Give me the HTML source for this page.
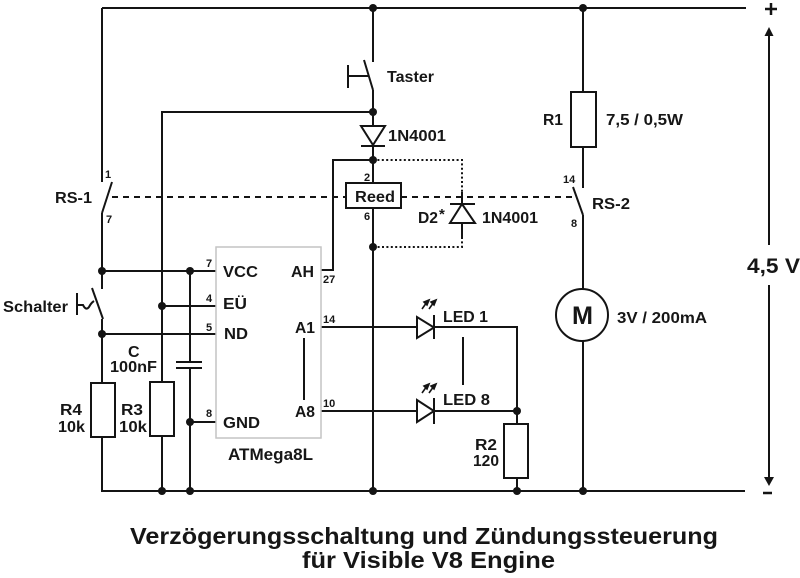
<!DOCTYPE html>
<html><head><meta charset="utf-8"><style>
html,body{margin:0;padding:0;background:#fff;}
svg{display:block;}
text{font-family:"Liberation Sans",Arial,sans-serif;font-weight:bold;fill:#161616;}
</style></head><body>
<svg width="800" height="578" viewBox="0 0 800 578" xmlns="http://www.w3.org/2000/svg">
<rect width="800" height="578" fill="#fff"/>
<g stroke="#141414" stroke-width="2" fill="none" stroke-linecap="butt">
  <!-- top rail -->
  <path d="M102,8 H746"/>
  <!-- left vertical with RS-1 -->
  <path d="M102,8 V182"/>
  <path d="M102,213 L112,182"/>
  <path d="M102,213 V289"/>
  <!-- Schalter -->
  <path d="M92,288 L103,319"/>
  <path d="M102,319 V383"/>
  <path d="M77,293 V315"/>
  <path d="M77,305 H83 Q86,311 89,307 Q91,303 94,301"/>
  <rect x="91" y="383" width="24" height="54"/>
  <path d="M102,437 V491 H745"/>
  <!-- x=162 -->
  <path d="M373,112 H162 V382"/>
  <rect x="150" y="382" width="24" height="54"/>
  <path d="M162,436 V491"/>
  <!-- capacitor -->
  <path d="M190,271 V362"/>
  <path d="M176,362 H202 M176,368 H202"/>
  <path d="M190,368 V491"/>
  <!-- IC wires -->
  <path d="M102,271 H216"/>
  <path d="M162,306 H216"/>
  <path d="M102,334 H216"/>
  <path d="M190,422 H216"/>
  <path d="M304,338 V400"/>
  <path d="M321,270 H333 V160 H373"/>
  <!-- Taster / diode column -->
  <path d="M373,8 V62"/>
  <path d="M364,60 L373,90"/>
  <path d="M348,76 H368 M348,65 V88"/>
  <path d="M373,90 V126"/>
  <path d="M373,145 V183"/>
  <path d="M361,146 H385"/>
  <rect x="346" y="183" width="55" height="25"/>
  <path d="M373,208 V491"/>
  <!-- D2 -->
  <path d="M462,192 V204 M462,223 V237"/>
  <path d="M450,204 H475"/>
  <path d="M450,223 H475 L462,204 Z"/>
  <!-- LEDs -->
  <path d="M321,327 H417 M434,327 H517 V424"/>
  <path d="M321,411 H417 M434,411 H517"/>
  <path d="M417,317 V338 L434,327.5 Z"/>
  <path d="M434,315 V339"/>
  <path d="M417,400 V422 L434,411 Z"/>
  <path d="M434,398 V424"/>
  <path d="M463,337 V385"/>
  <rect x="504" y="424" width="24" height="54"/>
  <path d="M517,478 V491"/>
  <!-- right branch -->
  <path d="M583,8 V92"/>
  <rect x="571" y="92" width="25" height="55"/>
  <path d="M583,147 V188"/>
  <path d="M573,187 L583,215"/>
  <path d="M583,215 V289"/>
  <circle cx="582" cy="315" r="26"/>
  <path d="M583,341 V491"/>
  <!-- voltage arrow -->
  <path d="M769,35 V245 M769,285 V478"/>
  <path d="M765,9 H777 M771,3 V15" stroke-width="2.5"/>
  <path d="M763,493 H772" stroke-width="2.5"/>
</g>
<!-- LED arrows -->
<g stroke="#141414" stroke-width="1.6" fill="#141414">
  <path d="M422,309 L427,302"/><path d="M429,300 L424,302 L427,305 Z"/>
  <path d="M429,309 L434,302"/><path d="M436,300 L431,302 L434,305 Z"/>
  <path d="M422,393 L427,386"/><path d="M429,384 L424,386 L427,389 Z"/>
  <path d="M429,393 L434,386"/><path d="M436,384 L431,386 L434,389 Z"/>
</g>
<!-- diode 1N4001 -->
<path d="M361,126 H385 L373,145 Z" fill="#fff" stroke="#141414" stroke-width="2"/>
<!-- arrowheads -->
<path d="M769,27 L764.5,36 L773.5,36 Z" fill="#141414"/>
<path d="M769,486 L764,477 L774,477 Z" fill="#141414"/>
<!-- IC box -->
<rect x="216" y="247" width="105" height="191" fill="none" stroke="#c4c4c4" stroke-width="1.5"/>
<!-- dashed mechanical link -->
<path d="M112,197 H346 M401,197 H575" stroke="#141414" stroke-width="2" stroke-dasharray="6 5" fill="none"/>
<!-- dotted D2 connection -->
<path d="M373,160 H462 V192 M462,237 V247 H373" stroke="#141414" stroke-width="2" stroke-dasharray="2 2.4" fill="none"/>
<!-- junctions -->
<g fill="#141414">
  <circle cx="373" cy="8" r="4"/><circle cx="583" cy="8" r="4"/>
  <circle cx="373" cy="112" r="4"/><circle cx="373" cy="160" r="4"/>
  <circle cx="373" cy="247" r="4"/><circle cx="102" cy="271" r="4"/>
  <circle cx="190" cy="271" r="4"/><circle cx="162" cy="306" r="4"/>
  <circle cx="102" cy="334" r="4"/><circle cx="190" cy="422" r="4"/>
  <circle cx="162" cy="491" r="4"/><circle cx="190" cy="491" r="4"/>
  <circle cx="373" cy="491" r="4"/><circle cx="517" cy="411" r="4"/>
  <circle cx="517" cy="491" r="4"/><circle cx="583" cy="491" r="4"/>
</g>
<!-- labels -->
<text x="55" y="203" font-size="16" textLength="37" lengthAdjust="spacingAndGlyphs">RS-1</text>
<text x="105" y="178" font-size="11">1</text>
<text x="106" y="223" font-size="11">7</text>
<text x="3" y="312" font-size="16" textLength="65" lengthAdjust="spacingAndGlyphs">Schalter</text>
<text x="387" y="82" font-size="16" textLength="47" lengthAdjust="spacingAndGlyphs">Taster</text>
<text x="388" y="141" font-size="16" textLength="58" lengthAdjust="spacingAndGlyphs">1N4001</text>
<text x="355" y="202" font-size="16" textLength="40" lengthAdjust="spacingAndGlyphs">Reed</text>
<text x="364" y="181" font-size="11">2</text>
<text x="364" y="220" font-size="11">6</text>
<text x="418" y="223" font-size="16" textLength="20" lengthAdjust="spacingAndGlyphs">D2</text>
<text x="439" y="219" font-size="15">*</text>
<text x="482" y="223" font-size="16" textLength="56" lengthAdjust="spacingAndGlyphs">1N4001</text>
<text x="543" y="125" font-size="16" textLength="20" lengthAdjust="spacingAndGlyphs">R1</text>
<text x="606" y="125" font-size="16" textLength="77" lengthAdjust="spacingAndGlyphs">7,5 / 0,5W</text>
<text x="563" y="183" font-size="11">14</text>
<text x="571" y="227" font-size="11">8</text>
<text x="592" y="209" font-size="16" textLength="38" lengthAdjust="spacingAndGlyphs">RS-2</text>
<text x="572" y="324" font-size="25" textLength="21" lengthAdjust="spacingAndGlyphs">M</text>
<text x="617" y="323" font-size="16" textLength="90" lengthAdjust="spacingAndGlyphs">3V / 200mA</text>
<text x="747" y="273" font-size="21" textLength="53" lengthAdjust="spacingAndGlyphs">4,5 V</text>
<!-- IC -->
<text x="223" y="277" font-size="16" textLength="35" lengthAdjust="spacingAndGlyphs">VCC</text>
<text x="223" y="309" font-size="16" textLength="24" lengthAdjust="spacingAndGlyphs">EÜ</text>
<text x="224" y="339" font-size="16" textLength="24" lengthAdjust="spacingAndGlyphs">ND</text>
<text x="223" y="428" font-size="16" textLength="37" lengthAdjust="spacingAndGlyphs">GND</text>
<text x="291" y="277" font-size="16" textLength="23" lengthAdjust="spacingAndGlyphs">AH</text>
<text x="295" y="333" font-size="16" textLength="20" lengthAdjust="spacingAndGlyphs">A1</text>
<text x="295" y="417" font-size="16" textLength="20" lengthAdjust="spacingAndGlyphs">A8</text>
<text x="228" y="460" font-size="17" textLength="85" lengthAdjust="spacingAndGlyphs">ATMega8L</text>
<text x="206" y="267" font-size="11">7</text>
<text x="206" y="302" font-size="11">4</text>
<text x="206" y="331" font-size="11">5</text>
<text x="206" y="417" font-size="11">8</text>
<text x="323" y="283" font-size="11">27</text>
<text x="323" y="323" font-size="11">14</text>
<text x="323" y="407" font-size="11">10</text>
<text x="128" y="357" font-size="16">C</text>
<text x="110" y="372" font-size="16" textLength="47" lengthAdjust="spacingAndGlyphs">100nF</text>
<text x="60" y="415" font-size="16" textLength="22" lengthAdjust="spacingAndGlyphs">R4</text>
<text x="58" y="432" font-size="16" textLength="27" lengthAdjust="spacingAndGlyphs">10k</text>
<text x="121" y="415" font-size="16" textLength="22" lengthAdjust="spacingAndGlyphs">R3</text>
<text x="119" y="432" font-size="16" textLength="28" lengthAdjust="spacingAndGlyphs">10k</text>
<text x="443" y="322" font-size="16" textLength="45" lengthAdjust="spacingAndGlyphs">LED 1</text>
<text x="443" y="405" font-size="16" textLength="47" lengthAdjust="spacingAndGlyphs">LED 8</text>
<text x="475" y="450" font-size="16" textLength="22" lengthAdjust="spacingAndGlyphs">R2</text>
<text x="473" y="466" font-size="16" textLength="26" lengthAdjust="spacingAndGlyphs">120</text>
<!-- title -->
<text x="130" y="544" font-size="23" textLength="588" lengthAdjust="spacingAndGlyphs">Verzögerungsschaltung und Zündungssteuerung</text>
<text x="302" y="568" font-size="23" textLength="253" lengthAdjust="spacingAndGlyphs">für Visible V8 Engine</text>
</svg>
</body></html>
